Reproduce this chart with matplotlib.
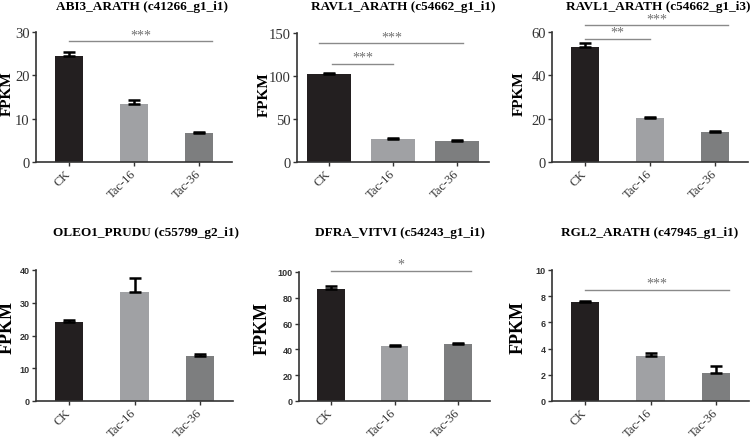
"""
Six gene expression panels: FPKM bar charts with significance lines
"""

import matplotlib

matplotlib.use("Agg")
import matplotlib.pyplot as plt  # noqa:E402
from matplotlib.transforms import ScaledTranslation  # noqa:E402

# data
groups = ["CK", "Tac-16", "Tac-36"]

titles = [
    "ABI3_ARATH (c41266_g1_i1)",
    "RAVL1_ARATH (c54662_g1_i1)",
    "RAVL1_ARATH (c54662_g1_i3)",
    "OLEO1_PRUDU (c55799_g2_i1)",
    "DFRA_VITVI (c54243_g1_i1)",
    "RGL2_ARATH (c47945_g1_i1)",
]

means = [
    [24.5, 13.5, 6.7],
    [102.0, 26.5, 24.5],
    [53.0, 20.5, 14.0],
    [24.2, 33.2, 13.7],
    [87.0, 42.5, 44.0],
    [7.55, 3.45, 2.15],
]

errors = [
    [0.8, 0.8, 0.3],
    [2.0, 1.0, 1.0],
    [1.8, 0.5, 0.4],
    [0.4, 4.4, 0.8],
    [1.8, 0.6, 0.6],
    [0.12, 0.25, 0.55],
]

ymax = [30, 150, 60, 40, 100, 10]
ystep = [10, 50, 20, 10, 20, 2]

# significance marks: (x start, x end, y, label)
sig_marks = [
    [(0.0, 2.2, 27.9, "***")],
    [(-0.15, 2.1, 138, "***"), (0.05, 1.0, 114, "***")],
    [(0.0, 2.2, 63.2, "***"), (0.0, 1.0, 56.8, "**")],
    [],
    [(0.0, 2.2, 101, "*")],
    [(0.0, 2.2, 8.5, "***")],
]

colors = ["#231f20", "#a0a1a4", "#7d7e7f"]

W, H = 750, 439

# axes boxes in pixels: left, top, right, bottom
boxes = [
    (36, 33, 232, 163),
    (297, 34, 489, 163),
    (552, 33, 748, 163),
    (36, 271, 233, 402),
    (299, 273, 490, 402),
    (552, 271, 749, 402),
]
bar_widths = [0.43, 0.69, 0.43, 0.43, 0.43, 0.43]
title_pos = [(142, 7), (403, 7), (658, 7), (146, 233), (400, 233), (650, 233)]
# right edge of the rotated "FPKM" label, pixels
ylabel_x = [14, 271, 526, 16, 271, 527]
ylabel_y = [0.53, 0.53, 0.53, 0.57, 0.57, 0.57]

SERIF = "Liberation Serif"
SANS = "Liberation Sans"


def main():
    fig = plt.figure(figsize=(W / 100, H / 100), dpi=100)
    # nudge rotated tick labels a few pixels right, like the original
    nudge = ScaledTranslation(0.035, 0, fig.dpi_scale_trans)

    for i in range(6):
        left, top, right, bottom = boxes[i]
        ax = fig.add_axes(
            [left / W, 1 - bottom / H, (right - left) / W, (bottom - top) / H]
        )
        x = range(len(groups))
        ax.bar(x, means[i], width=bar_widths[i], color=colors, zorder=2)
        ax.errorbar(
            x,
            means[i],
            yerr=[[0, 0, 0], errors[i]],
            fmt="none",
            ecolor="black",
            elinewidth=1.8,
            capsize=4.5,
            capthick=1.8,
            zorder=3,
        )
        for x0, x1, y, label in sig_marks[i]:
            ax.plot([x0, x1], [y, y], color="#8a8a8a", lw=1.0, clip_on=False)
            ax.text(
                (x0 + x1) / 2,
                y,
                label,
                ha="center",
                va="bottom",
                color="#707070",
                fontsize=10,
                family=SERIF,
            )

        ax.set_xlim(-0.5, 2.5)
        ax.set_ylim(0, ymax[i])
        ax.set_yticks(range(0, ymax[i] + 1, ystep[i]))
        ax.set_xticks(list(x))
        ax.set_xticklabels(
            groups,
            rotation=45,
            ha="right",
            va="center",
            rotation_mode="anchor",
            family=SERIF,
            fontsize=9,
        )
        for lab in ax.get_xticklabels():
            lab.set_transform(lab.get_transform() + nudge)
        for s in ["top", "right"]:
            ax.spines[s].set_visible(False)
        for s in ["left", "bottom"]:
            ax.spines[s].set_color("#333333")
            ax.spines[s].set_linewidth(1.2)
        ax.tick_params(colors="#333333", width=1.0, length=3, pad=1.5)
        ax.tick_params(axis="x", pad=3.6)

        if i < 3:
            for lab in ax.get_yticklabels():
                lab.set_family(SERIF)
                lab.set_fontsize(10.5)
            ax.set_ylabel("FPKM", family=SERIF, fontweight="bold", fontsize=11)
        else:
            for lab in ax.get_yticklabels():
                lab.set_family(SANS)
                lab.set_fontweight("bold")
                lab.set_fontsize(6.5)
            ax.set_ylabel("FPKM", family=SERIF, fontweight="bold", fontsize=13)
        ax.yaxis.set_label_coords(
            (ylabel_x[i] - left) / (right - left), ylabel_y[i]
        )

        tx, ty = title_pos[i]
        fig.text(
            tx / W,
            1 - ty / H,
            titles[i],
            ha="center",
            va="center",
            family=SERIF,
            fontweight="bold",
            fontsize=9.5,
        )

    fig.savefig("out.png", dpi=100)
    plt.close(fig)


if __name__ == "__main__":
    main()
